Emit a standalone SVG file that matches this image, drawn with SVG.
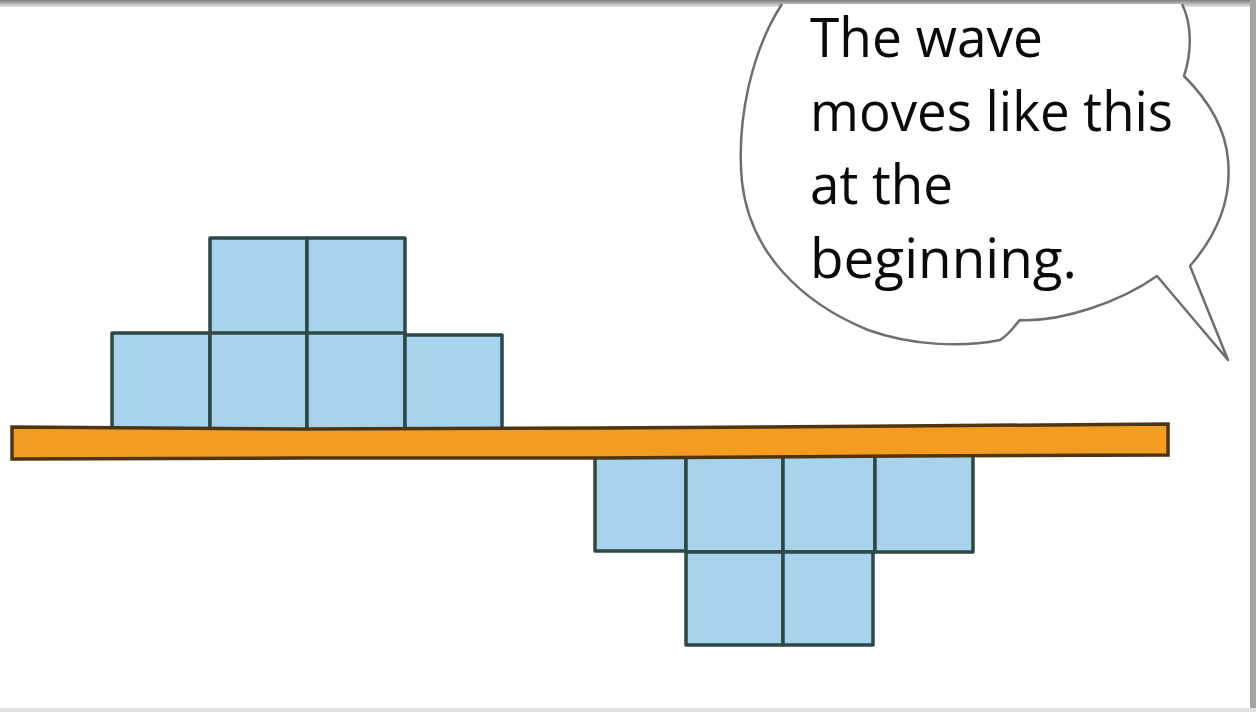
<svg xmlns="http://www.w3.org/2000/svg" width="1256" height="712" viewBox="0 0 1256 712">
<defs>
<linearGradient id="topband" x1="0" y1="0" x2="0" y2="1">
<stop offset="0" stop-color="#7d7d7d"/>
<stop offset="1" stop-color="#e8e8e8"/>
</linearGradient>
<style>
.sq{fill:#a7d3ec;stroke:#2e4846;stroke-width:3.5;stroke-linejoin:round}
.bar{fill:#f29c22;stroke:#4f3410;stroke-width:3.5}
.bubble{fill:#ffffff;stroke:#6f6f6f;stroke-width:2.5;stroke-linejoin:round}
.txt{font-family:"Open Sans","Noto Sans",sans-serif;font-size:54px;fill:#0a0a0a}
</style>
</defs>
<rect x="0" y="0" width="1256" height="712" fill="#ffffff"/>
<rect x="0" y="0" width="1256" height="7" fill="url(#topband)"/>
<rect x="1250" y="0" width="6" height="712" fill="#a4a4a0"/>
<rect x="0" y="708" width="1256" height="4" fill="#e2e2e2"/>

<g id="upper-blocks">
<rect class="sq" x="210" y="238" width="97" height="96"/>
<rect class="sq" x="307" y="238" width="98" height="96"/>
<rect class="sq" x="112" y="333" width="98" height="97"/>
<rect class="sq" x="210" y="333" width="97" height="97"/>
<rect class="sq" x="307" y="333" width="98" height="97"/>
<rect class="sq" x="405" y="335" width="97" height="95"/>
</g>

<g id="lower-blocks">
<rect class="sq" x="595" y="455" width="91" height="96"/>
<rect class="sq" x="686" y="455" width="97" height="97"/>
<rect class="sq" x="783" y="455" width="92" height="97"/>
<rect class="sq" x="875" y="455" width="98" height="97"/>
<rect class="sq" x="686" y="552" width="97" height="93"/>
<rect class="sq" x="783" y="552" width="90" height="93"/>
</g>

<g id="bar">
<path class="bar" d="M12 427 L300 429 L600 428 L900 426 L1168 424 L1168 455 L900 456 L600 458 L300 458 L12 459 Z"/>
</g>

<g id="speech-bubble">
<path class="bubble" d="M782 4 C752 50 736 120 742 182 C750 252 800 302 868 330 C910 345 960 348 1000 340 C1010 334 1014 326 1020 320 C1062 322 1120 302 1157 276 L1228 360 L1190 266 C1216 236 1232 200 1228 160 C1225 122 1202 94 1184 76 C1192 52 1192 24 1182 4"/>
<text class="txt" x="810" y="57" textLength="233" lengthAdjust="spacingAndGlyphs">The wave</text>
<text class="txt" x="810" y="131" textLength="363" lengthAdjust="spacingAndGlyphs">moves like this</text>
<text class="txt" x="810" y="204" textLength="143" lengthAdjust="spacingAndGlyphs">at the</text>
<text class="txt" x="810" y="278" textLength="267" lengthAdjust="spacingAndGlyphs">beginning.</text>
</g>
</svg>
